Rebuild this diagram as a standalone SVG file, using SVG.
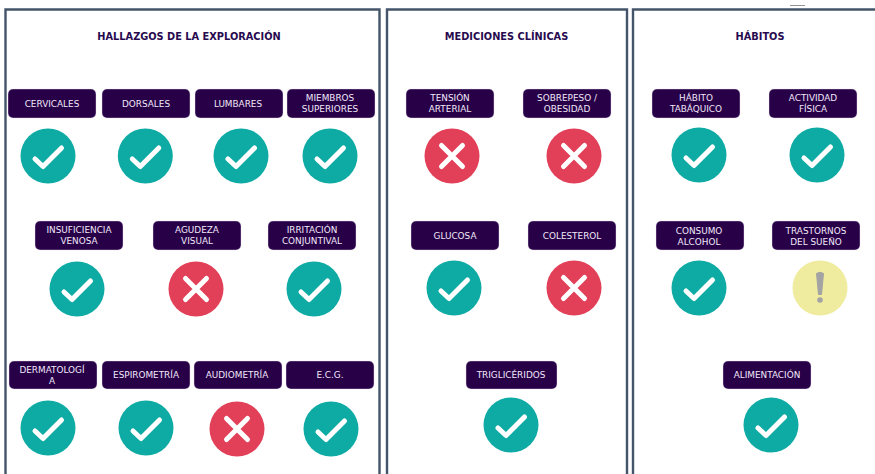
<svg xmlns="http://www.w3.org/2000/svg" width="875" height="474" viewBox="0 0 875 474">
<style>
.panel{fill:#fff;stroke:#44546a;stroke-width:2.4}
.title{font:bold 9.8px "DejaVu Sans",sans-serif;fill:#280a50;text-anchor:middle}
.lab{fill:#280048;stroke:#e8e0f0;stroke-width:.4}
.lt{font:8.9px "DejaVu Sans",sans-serif;fill:#f0e8f8;text-anchor:middle}
.mk{fill:none;stroke:#fff;stroke-width:5;stroke-linecap:round;stroke-linejoin:round}
</style>
<defs>
<g id="ok"><circle r="27.5" fill="#0eaba4"/><path class="mk" d="M-13 3L-5 10.500L13.500-8"/></g>
<g id="no"><circle r="27.500" fill="#e23f58"/><path class="mk" d="M-10.500-10.500L10.500 10.500M10.500-10.500L-10.500 10.500"/></g>
<g id="warn"><circle r="27.500" fill="#efec9f"/><path d="M-3.500-14.500Q0-17 3.500-14.500L1.500 6.500H-1.500Z" fill="#a3a3a3" stroke="#a3a3a3" stroke-linejoin="round"/><circle cy="12" r="2.800" fill="#a3a3a3"/></g>
</defs>
<rect width="875" height="474" fill="#fff"/>
<path d="M790 5.500H805" stroke="#777" stroke-width=".8"/>
<g id="panels">
<path class="panel" d="M5.500 480V9.500H379.500V480"/>
<path class="panel" d="M387 480V9.500H627V480"/>
<path class="panel" d="M633 480V9.500H880"/>
</g>
<g id="titles">
<text class="title" x="189" y="40">HALLAZGOS DE LA EXPLORACIÓN</text>
<text class="title" x="506.500" y="39.500">MEDICIONES CLÍNICAS</text>
<text class="title" x="760" y="40">HÁBITOS</text>
</g>
<g id="connectors"/>
<g id="n-cervicales"><rect class="lab" x="8" y="89" width="88" height="29" rx="5"/><text class="lt" x="52" y="107">CERVICALES</text><use href="#ok" x="48" y="156"/></g>
<g id="n-dorsales"><rect class="lab" x="102" y="89" width="88" height="29" rx="5"/><text class="lt" x="146" y="107">DORSALES</text><use href="#ok" x="145.300" y="156"/></g>
<g id="n-lumbares"><rect class="lab" x="195" y="89" width="88" height="29" rx="5"/><text class="lt" x="238" y="107">LUMBARES</text><use href="#ok" x="241" y="156"/></g>
<g id="n-miembros"><rect class="lab" x="287" y="89" width="88" height="29" rx="5"/><text class="lt" x="330" y="101">MIEMBROS</text><text class="lt" x="330" y="112">SUPERIORES</text><use href="#ok" x="330" y="156"/></g>
<g id="n-insuficiencia"><rect class="lab" x="35" y="221" width="88" height="29" rx="5"/><text class="lt" x="79" y="233">INSUFICIENCIA</text><text class="lt" x="79" y="244">VENOSA</text><use href="#ok" x="77" y="289"/></g>
<g id="n-agudeza"><rect class="lab" x="153" y="221" width="88" height="29" rx="5"/><text class="lt" x="197" y="233">AGUDEZA</text><text class="lt" x="197" y="244">VISUAL</text><use href="#no" x="196" y="289"/></g>
<g id="n-irritacion"><rect class="lab" x="268" y="221" width="88" height="29" rx="5"/><text class="lt" x="312" y="233">IRRITACIÓN</text><text class="lt" x="312" y="244">CONJUNTIVAL</text><use href="#ok" x="314" y="289"/></g>
<g id="n-dermatologia"><rect class="lab" x="9" y="361" width="88" height="28" rx="5"/><text class="lt" x="52" y="373">DERMATOLOGÍ</text><text class="lt" x="52" y="384">A</text><use href="#ok" x="48" y="428"/></g>
<g id="n-espirometria"><rect class="lab" x="102" y="361" width="88" height="28" rx="5"/><text class="lt" x="146" y="378">ESPIROMETRÍA</text><use href="#ok" x="146" y="428"/></g>
<g id="n-audiometria"><rect class="lab" x="194" y="361" width="88" height="28" rx="5"/><text class="lt" x="237" y="378">AUDIOMETRÍA</text><use href="#no" x="237" y="429"/></g>
<g id="n-ecg"><rect class="lab" x="286" y="361" width="88" height="28" rx="5"/><text class="lt" x="330" y="378">E.C.G.</text><use href="#ok" x="331" y="429"/></g>
<g id="n-tension"><rect class="lab" x="406" y="89" width="88" height="29" rx="5"/><text class="lt" x="450" y="101">TENSIÓN</text><text class="lt" x="450" y="112">ARTERIAL</text><use href="#no" x="452" y="156"/></g>
<g id="n-sobrepeso"><rect class="lab" x="523" y="89" width="88" height="29" rx="5"/><text class="lt" x="567" y="101">SOBREPESO /</text><text class="lt" x="567" y="112">OBESIDAD</text><use href="#no" x="574" y="156"/></g>
<g id="n-glucosa"><rect class="lab" x="411" y="221" width="88" height="29" rx="5"/><text class="lt" x="455" y="239">GLUCOSA</text><use href="#ok" x="454" y="288"/></g>
<g id="n-colesterol"><rect class="lab" x="528" y="221" width="88" height="29" rx="5"/><text class="lt" x="572" y="239">COLESTEROL</text><use href="#no" x="574" y="288"/></g>
<g id="n-trigliceridos"><rect class="lab" x="466" y="361" width="91" height="28" rx="5"/><text class="lt" x="511" y="378">TRIGLICÉRIDOS</text><use href="#ok" x="511" y="425"/></g>
<g id="n-tabaquico"><rect class="lab" x="652" y="89" width="88" height="29" rx="5"/><text class="lt" x="696" y="101">HÁBITO</text><text class="lt" x="696" y="112">TABÁQUICO</text><use href="#ok" x="699" y="155"/></g>
<g id="n-actividad"><rect class="lab" x="769" y="89" width="88" height="29" rx="5"/><text class="lt" x="813" y="101">ACTIVIDAD</text><text class="lt" x="813" y="112">FÍSICA</text><use href="#ok" x="817" y="155"/></g>
<g id="n-alcohol"><rect class="lab" x="656" y="221" width="88" height="29" rx="5"/><text class="lt" x="699" y="234">CONSUMO</text><text class="lt" x="699" y="244.500">ALCOHOL</text><use href="#ok" x="699" y="288"/></g>
<g id="n-sueno"><rect class="lab" x="772" y="221" width="88" height="29" rx="5"/><text class="lt" x="816" y="234">TRASTORNOS</text><text class="lt" x="816" y="244.500">DEL SUEÑO</text><use href="#warn" x="820" y="288"/></g>
<g id="n-alimentacion"><rect class="lab" x="723" y="361" width="88" height="28" rx="5"/><text class="lt" x="767" y="378">ALIMENTACIÓN</text><use href="#ok" x="771" y="425"/></g>
</svg>
